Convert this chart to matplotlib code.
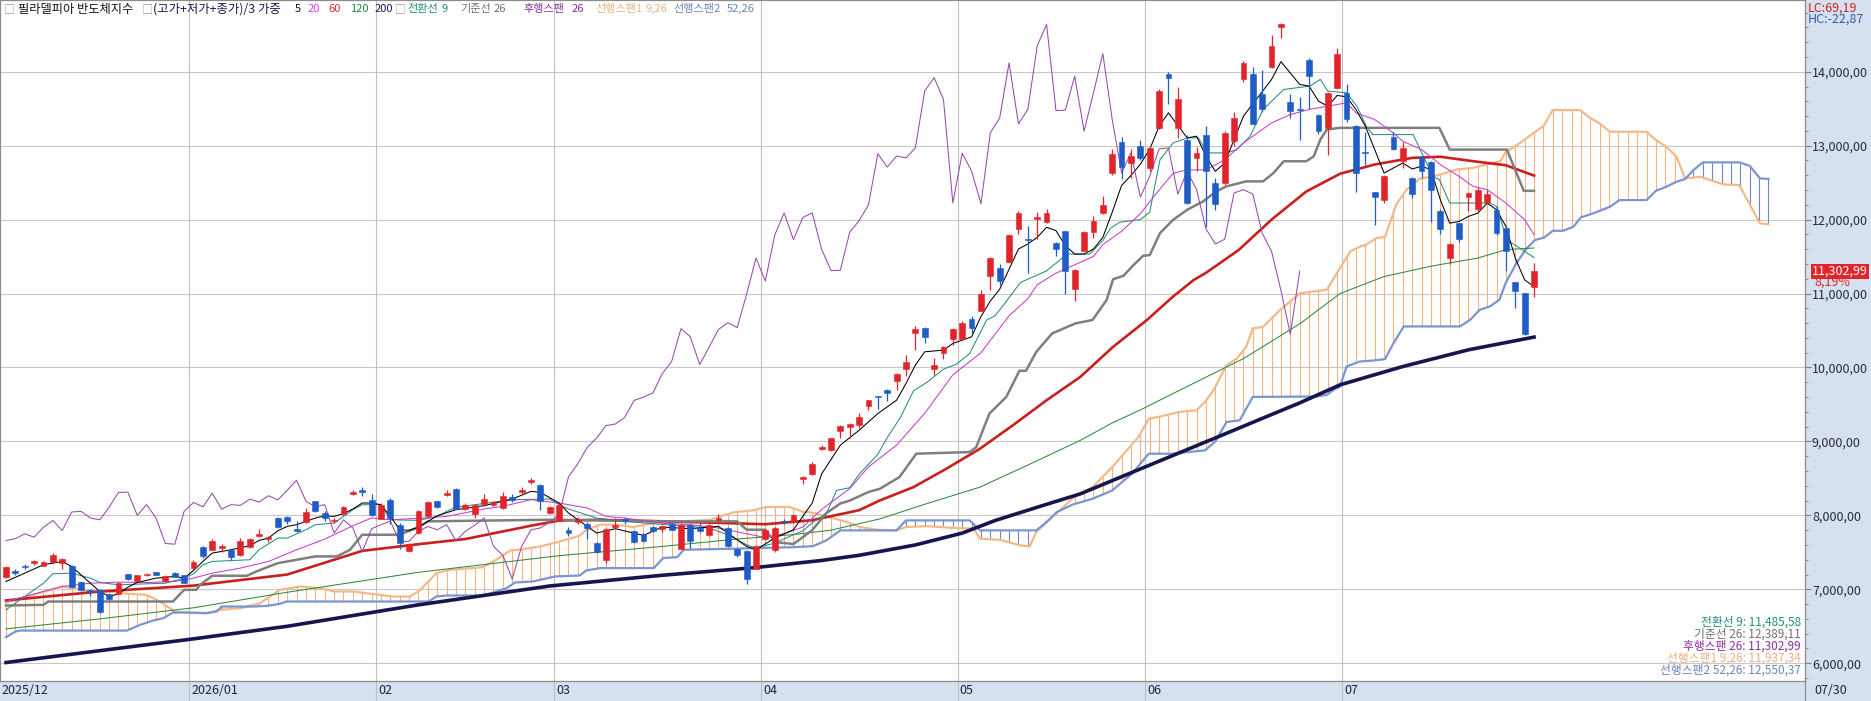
import numpy as np
import matplotlib
matplotlib.use('Agg')
import matplotlib.pyplot as plt
from matplotlib.transforms import blended_transform_factory
from matplotlib.ticker import FuncFormatter, MultipleLocator
from matplotlib.patches import Rectangle

plt.rcParams['font.family'] = ['Noto Sans CJK KR', 'DejaVu Sans']

# daily candles (index 0 = first bar of 2025/12, last = 07/30)
opens = [7160, 7250, 7310, 7355, 7320, 7370, 7355, 7310, 7100, 6990, 6990, 6935, 6940, 7205, 7115, 7190, 7230, 7110, 7215, 7190,
         7285, 7570, 7535, 7560, 7535, 7470, 7570, 7715, 7685, 7965, 7975, 7820, 7905, 8190, 8030, 7920, 8020, 8290, 8340, 8210,
         7955, 8210, 7875, 7520, 7760, 7985, 8190, 8280, 8355, 8085, 8020, 8155, 8145, 8100, 8250, 8315, 8450, 8415, 8030, 7930,
         7805, 7910, 7890, 7625, 7390, 7840, 7950, 7785, 7745, 7840, 7820, 7890, 7545, 7875, 7830, 7730, 7940, 7830, 7550, 7520,
         7280, 7680, 7535, 7930, 7905, 8495, 8565, 8900, 8885, 9135, 9200, 9225, 9475, 9610, 9690, 9815, 9975, 10470, 10540, 9980,
         10200, 10390, 10380, 10660, 10765, 11240, 11340, 11420, 11875, 11740, 12010, 11965, 11680, 11840, 11060, 11580, 11835, 12085, 12630, 13050,
         12770, 12990, 12700, 13240, 13975, 13240, 13070, 12835, 13140, 12495, 12495, 13060, 13895, 13975, 13700, 14070, 14610, 13595, 13490, 14165,
         13420, 13240, 13785, 13715, 13270, 12915, 12370, 12270, 13120, 12790, 12560, 12840, 12780, 12110, 11480, 11950, 12305, 12140, 12235, 12130,
         11885, 11150, 11005, 11085]
highs = [7310, 7280, 7340, 7400, 7380, 7490, 7420, 7330, 7110, 7010, 7000, 6940, 7100, 7210, 7200, 7215, 7240, 7190, 7230, 7195,
         7400, 7580, 7680, 7610, 7545, 7690, 7700, 7810, 7720, 7980, 7990, 7920, 8100, 8200, 8060, 7960, 8130, 8340, 8380, 8290,
         8170, 8230, 7900, 7620, 8070, 8200, 8200, 8340, 8370, 8170, 8150, 8290, 8200, 8310, 8290, 8390, 8510, 8420, 8130, 8150,
         7840, 7980, 7910, 7640, 7830, 7960, 7980, 7790, 7760, 7850, 7860, 7900, 7890, 7880, 7900, 7880, 8020, 7840, 7560, 7530,
         7590, 7810, 7840, 7950, 8020, 8530, 8720, 8950, 9050, 9220, 9250, 9380, 9560, 9610, 9715, 9920, 10170, 10560, 10545, 10125,
         10290, 10540, 10630, 10700, 11050, 11490, 11400, 11800, 12115, 11910, 12100, 12150, 11700, 11850, 11330, 11850, 12050, 12320, 12950, 13120,
         12960, 13080, 12990, 13760, 14000, 13790, 13140, 12980, 13270, 12560, 13200, 13450, 14140, 14060, 14020, 14490, 14660, 13700, 13655, 14190,
         13430, 13730, 14320, 13840, 13280, 13180, 12380, 12600, 13180, 13050, 12580, 12860, 12790, 12150, 11690, 11960, 12360, 12445, 12395, 12180,
         11900, 11160, 11010, 11410]
lows = [7150, 7190, 7280, 7330, 7310, 7360, 7270, 7020, 6980, 6910, 6680, 6860, 6930, 7130, 7110, 7180, 7195, 7100, 7160, 7080,
        7280, 7430, 7525, 7500, 7400, 7450, 7560, 7710, 7640, 7830, 7890, 7780, 7900, 8050, 7920, 7900, 8010, 8270, 8260, 7990,
        7950, 7880, 7540, 7500, 7750, 7980, 8100, 8260, 8080, 8070, 7970, 8140, 8130, 8090, 8180, 8290, 8420, 8070, 8020, 7920,
        7720, 7880, 7680, 7490, 7360, 7820, 7880, 7630, 7640, 7775, 7780, 7800, 7540, 7560, 7775, 7720, 7900, 7570, 7440, 7070,
        7270, 7670, 7510, 7880, 7900, 8420, 8550, 8880, 8870, 9050, 9050, 9180, 9430, 9440, 9545, 9690, 9890, 10235, 10330, 9900,
        10115, 10300, 10370, 10450, 10760, 11050, 11110, 11410, 11805, 11275, 11740, 11960, 11510, 11000, 10900, 11570, 11750, 12080, 12600, 12550,
        12560, 12800, 12660, 13225, 13560, 13100, 12210, 12655, 11900, 12135, 12470, 12990, 13860, 13290, 13460, 14050, 14450, 13375, 13080, 13490,
        13160, 12875, 13760, 13320, 12370, 12745, 11930, 12230, 12940, 12700, 12290, 12560, 11965, 11810, 11400, 11700, 12120, 12120, 12210, 11790,
        11310, 10810, 10440, 10960]
closes = [7296, 7220, 7300, 7385, 7370, 7460, 7415, 7030, 6995, 6960, 6690, 6870, 7085, 7140, 7190, 7205, 7200, 7180, 7165, 7085,
          7370, 7445, 7660, 7580, 7435, 7660, 7685, 7750, 7705, 7840, 7930, 7795, 8045, 8055, 7965, 7940, 8110, 8310, 8315, 8000,
          8145, 7965, 7620, 7610, 8055, 8175, 8115, 8300, 8085, 8145, 8135, 8220, 8180, 8265, 8210, 8340, 8475, 8190, 8115, 8145,
          7760, 7940, 7830, 7510, 7820, 7875, 7920, 7640, 7650, 7785, 7850, 7805, 7875, 7655, 7785, 7865, 7965, 7580, 7460, 7140,
          7580, 7805, 7830, 7910, 8010, 8520, 8700, 8920, 9045, 9215, 9235, 9325, 9555, 9600, 9655, 9915, 10080, 10525, 10415, 10040,
          10275, 10515, 10605, 10540, 10990, 11480, 11170, 11790, 12090, 11730, 12030, 12090, 11600, 11310, 11315, 11830, 11985, 12200, 12890, 12710,
          12860, 12835, 12970, 13740, 13920, 13625, 12225, 12900, 12655, 12215, 13175, 13375, 14120, 13295, 13490, 14350, 14640, 13475, 13480, 13940,
          13195, 13715, 14245, 13355, 12630, 12905, 12305, 12585, 12955, 12970, 12345, 12655, 12405, 11875, 11670, 11735, 12360, 12405, 12345, 11815,
          11570, 11040, 10450, 11303]

# moving averages (weighted, typical price)
ma5_x = [0, 2, 4, 6, 7, 8, 9, 10, 11, 12, 13, 14, 16, 18, 19, 20, 21, 22, 24, 26, 27, 28, 29, 30, 31, 32, 33, 34, 35, 36,
         37, 38, 39, 40, 41, 42, 43, 44, 46, 48, 51, 54, 56, 57, 59, 60, 63, 65, 68, 70, 73, 76, 78, 79, 80, 82, 84, 86, 87, 89,
         91, 93, 95, 96, 97, 98, 100, 101, 103, 104, 105, 106, 107, 108, 109, 110, 111, 112, 113, 114, 115, 116, 117, 118, 119, 120, 121, 122, 123, 124,
         126, 127, 128, 129, 130, 132, 135, 136, 138, 139, 140, 141, 142, 143, 144, 145, 146, 147, 149, 150, 151, 152, 153, 154, 155, 156, 157, 158, 159, 160,
         161, 162, 163]
ma5_y = [7106, 7219, 7332, 7377, 7309, 7196, 7083, 6971, 6903, 6939, 7029, 7092, 7151, 7174, 7151, 7255, 7377, 7490, 7535, 7589,
         7661, 7693, 7792, 7851, 7874, 7919, 7964, 7995, 7986, 8023, 8086, 8167, 8167, 8144, 7986, 7806, 7797, 7840, 7995, 8077,
         8131, 8221, 8325, 8311, 8167, 8032, 7761, 7820, 7729, 7842, 7820, 7851, 7670, 7580, 7535, 7693, 7806, 8167, 8560, 8950,
         9151, 9377, 9558, 9783, 10032, 10212, 10235, 10325, 10415, 10690, 10900, 11059, 11330, 11602, 11670, 11760, 11896, 11851, 11647, 11534,
         11534, 11602, 11760, 12100, 12462, 12597, 12750, 12950, 13263, 13444, 13105, 13128, 12856, 12653, 12766, 13399, 13896, 14136, 13828, 13806,
         13602, 13534, 13679, 13661, 13489, 13263, 12947, 12630, 12766, 12685, 12721, 12676, 12269, 11952, 11975, 12043, 12088, 12224, 12133, 11907,
         11478, 11184, 11094]
ma20_x = [0, 4, 6, 9, 12, 15, 18, 20, 22, 25, 28, 31, 34, 37, 39, 41, 44, 47, 51, 53, 56, 59, 62, 64, 66, 70, 73, 76, 79, 81,
          83, 85, 87, 90, 92, 95, 98, 101, 104, 107, 109, 110, 112, 114, 116, 117, 119, 121, 123, 124.5, 126, 128, 130, 132, 135, 137, 139, 141, 143, 144,
          146, 148, 149, 151, 153, 155, 156.5, 158, 160, 162, 163]
ma20_y = [6835, 6971, 7038, 7083, 7097, 7092, 7106, 7151, 7219, 7287, 7377, 7535, 7679, 7860, 7964, 7941, 7960, 7986, 8086, 8122,
          8212, 8167, 8100, 7986, 7964, 7896, 7874, 7829, 7752, 7700, 7752, 7842, 8080, 8361, 8655, 8950, 9380, 9900, 10200, 10700,
          10930, 11118, 11276, 11389, 11502, 11661, 11842, 12080, 12400, 12627, 12672, 12672, 12808, 13037, 13308, 13421, 13489, 13534, 13580, 13444,
          13353, 13172, 13059, 12947, 12744, 12585, 12450, 12405, 12224, 11998, 11795]
ma60_x = [0, 10, 20, 30, 38, 44, 49, 56, 59, 63, 70, 77, 81, 86, 91, 93.2, 96.8, 100.3, 103.9, 107.4, 111, 114.6, 118.1, 121.7, 124.5, 126.7,
          128, 131.5, 135, 138.7, 142.3, 146, 150, 153, 156.5, 160, 163]
ma60_y = [6850, 6970, 7050, 7200, 7520, 7610, 7680, 7860, 7930, 7940, 7920, 7895, 7880, 7935, 8070, 8201, 8382, 8630, 8902, 9218,
          9557, 9873, 10280, 10642, 10960, 11184, 11280, 11590, 12000, 12380, 12620, 12745, 12835, 12850, 12790, 12735, 12595]
ma120_x = [0, 10, 20, 30, 44, 59, 70, 78, 84, 88, 93.2, 98, 103.9, 109, 114.6, 118, 121, 125.2, 132, 138, 142.3, 147, 152, 157, 160, 163]
ma120_y = [6465, 6600, 6750, 6960, 7230, 7455, 7580, 7680, 7740, 7800, 7952, 8150, 8382, 8680, 9015, 9250, 9426, 9693, 10120, 10590,
           11000, 11230, 11370, 11480, 11594, 11616]
ma200_x = [0, 10, 20, 30, 44, 58, 70, 80, 87, 91, 97, 102, 105.5, 110, 114.6, 118, 123, 126, 130, 135, 138, 142.3, 149, 156, 163]
ma200_y = [6010, 6170, 6330, 6500, 6790, 7045, 7190, 7295, 7390, 7460, 7600, 7760, 7930, 8110, 8291, 8470, 8733, 8890, 9100, 9364,
           9521, 9765, 10013, 10239, 10411]

# ichimoku lines
tenkan_x = [0, 2, 4, 5, 7, 9, 10, 12, 17, 19, 20, 21, 22, 26, 27, 29, 30, 32, 33, 35, 36, 37, 38, 40, 41, 44, 46, 47, 48, 50,
            54, 58, 59, 60, 63, 66, 69, 72, 75, 77, 79, 80, 82, 84, 85, 86, 87.5, 88.6, 90, 91, 93, 94, 95.4, 96.8, 98.2, 100, 101.4, 102.8, 104.6, 105.5,
            106.5, 108.2, 111, 112.1, 113.2, 115.6, 117, 117.8, 118.8, 121, 122, 123.1, 124.5, 126, 127.2, 128.1, 130.2, 131.3, 132.7, 134.1, 136.3, 139.1, 140.2, 141, 143,
            144.1, 145.1, 145.8, 150.1, 151.2, 152.2, 152.9, 154, 158.3, 159, 160.1, 161.5, 163]
tenkan_y = [6722, 6903, 7083, 7210, 7219, 7151, 7092, 7061, 7083, 7151, 7210, 7332, 7377, 7400, 7535, 7693, 7693, 7806, 7874, 7896,
            7986, 8077, 8144, 8144, 7941, 7932, 7986, 8054, 8113, 8144, 8212, 8221, 8144, 8086, 7964, 7919, 7887, 7860, 7828, 7738,
            7603, 7558, 7625, 7738, 7790, 7900, 8023, 8338, 8374, 8555, 8826, 9052, 9322, 9684, 9796, 9977, 10045, 10190, 10641, 10700,
            10860, 11149, 11307, 11421, 11534, 11534, 11715, 11882, 11964, 12000, 12100, 12811, 13037, 13105, 13105, 12902, 12902, 12947, 13128, 13489,
            13760, 13806, 13896, 13738, 13715, 13534, 13263, 13150, 13150, 12856, 12585, 12540, 12224, 12224, 12178, 11726, 11613, 11486]
kijun_x = [0, 4, 4.5, 17.8, 19, 20.3, 20.7, 22, 25.7, 26.7, 29, 33, 35.3, 36.7, 38, 42, 44, 45, 58, 70, 78, 79, 81, 82, 84, 86,
           87.5, 89, 90, 92, 93.2, 95.3, 97.1, 102.8, 103.5, 104.9, 106.7, 108.1, 108.8, 109.9, 111.6, 114.1, 115.9, 117.4, 118.1, 119.2, 120.2,
           121.3, 122, 123.1, 124.5, 126, 127.7, 129.1, 130.2, 132.3, 134.1, 135.2, 136.3, 138.7, 139.5, 140.2, 140.9, 142.3, 152.9, 154, 160.1,
           161.9, 163]
kijun_y = [6781, 6790, 6835, 6835, 6993, 6993, 7061, 7183, 7183, 7241, 7354, 7445, 7445, 7535, 7738, 7738, 7842, 7919, 7941, 7919,
           7919, 7806, 7806, 7640, 7612, 7800, 8030, 8160, 8200, 8316, 8359, 8517, 8834, 8856, 8924, 9376, 9602, 9955, 9955, 10212,
           10461, 10597, 10642, 10912, 11194, 11240, 11376, 11511, 11520, 11817, 11998, 12133, 12246, 12382, 12450, 12517, 12517,
           12630, 12789, 12789, 12856, 13082, 13218, 13241, 13241, 12947, 12947, 12389, 12389]
span1_x = [0, 6, 7, 9, 11, 13, 15, 16.4, 18, 19.3, 21.4, 22.8, 25, 27.1, 29.2, 31.4, 33.5, 35, 37, 39.2, 41.3, 43.1, 44.2, 45.9,
           47.4, 50.9, 52.3, 53.8, 55.2, 57, 58.7, 61.2, 61.9, 63.4, 65.1, 66.9, 69.1, 72.3, 75.1, 76.2, 77.6, 79.7, 81.1, 83.6, 85, 86.1,
           87.5, 89.7, 91.1, 92.9, 95, 96, 98.2, 101.8, 103.2, 103.9, 106, 108.2, 109.2, 109.9, 111, 112.4, 113.9, 115.9, 118, 120.8,
           121.9, 122.9, 125.2, 127, 127.9, 128.8, 130.2, 131.3, 132.3, 133, 134.1, 135.9, 138, 140.9, 142.3, 143.4, 144.5,
           145.1, 146.2, 147.1, 148.3, 149.4, 150.8, 153, 154.7, 156.5, 158.3, 159.4, 160, 161.1, 162.9, 164, 165, 167.9, 168.9, 170, 171.1,
           175, 176, 177.1, 178.2, 179.1, 180.7, 183.2, 184.9, 187.1, 188]
span1_y = [6821, 7038, 7016, 6971, 6971, 6939, 6925, 6835, 6700, 6686, 6677, 6722, 6744, 6812, 6993, 7038, 7016, 6971, 6971, 6935,
           6903, 6903, 6993, 7219, 7264, 7300, 7400, 7526, 7544, 7580, 7634, 7725, 7806, 7874, 7874, 7842, 7896, 7919, 7941, 7986,
           8041, 8068, 8113, 8113, 8050, 8036, 7986, 7910, 7842, 7806, 7797, 7842, 7855, 7824, 7824, 7684, 7670, 7594, 7580, 7774,
           7910, 8068, 8246, 8382, 8653, 9060, 9308, 9331, 9399, 9421, 9534, 9693, 10032, 10122, 10280, 10529, 10551, 10777, 11003,
           11052, 11345, 11571, 11639, 11661, 11752, 11765, 12203, 12406, 12551, 12609, 12677, 12700, 12758, 12790, 12918, 13000, 13167,
           13265, 13482, 13482, 13383, 13300, 13188, 13188, 13076, 12985, 12850, 12557, 12579, 12476, 12467, 11949, 11937]
span2_x = [0, 1, 1.5, 12.9, 14.3, 15.7, 16.8, 17.8, 19.3, 21.4, 22.5, 23, 26.4, 27.8, 29.2, 29.9, 45.1, 45.9, 47, 50.9,
           53.4, 54.3, 56.2, 58.6, 61.2, 61.9, 63.4, 69.1, 70.1, 71.6, 72.3, 77.6, 84, 86.1, 87.5, 89, 95, 96, 102.8, 103.9,
           109.9, 111, 112.1, 113.8, 115.9, 118, 120.1, 121.9, 124.3, 127.9, 129, 130.2, 131.6, 133, 139.8,
           140.9, 141.6, 142.3, 143, 144.4, 145.9, 147.1, 148, 149.1, 155.1, 156.2, 157.2, 158.3, 159.3, 160, 161.1, 162.2, 163.1, 164.1, 165,
           166.1, 167.2, 168, 169.3, 171.1, 172.1, 175, 176, 177.1, 178.2, 179.1, 180, 181, 184.9, 186, 187.1, 188]
span2_y = [6352, 6429, 6442, 6442, 6519, 6578, 6610, 6686, 6686, 6677, 6700, 6767, 6767, 6776, 6803, 6835, 6835, 6903, 6916, 6916,
           7016, 7092, 7106, 7174, 7187, 7255, 7287, 7287, 7422, 7436, 7535, 7549, 7570, 7584, 7661, 7797, 7797, 7932, 7932, 7797,
           7797, 7910, 8045, 8147, 8224, 8337, 8563, 8834, 8834, 8879, 9000, 9263, 9286, 9602, 9607,
           9630, 9697, 9742, 10013, 10081, 10095, 10113, 10329, 10555, 10555, 10646, 10781, 10826, 10916, 11150, 11407, 11610, 11723, 11759, 11849,
           11849, 11903, 12030, 12084, 12174, 12264, 12264, 12390, 12444, 12512, 12548, 12670, 12774, 12774, 12728, 12557, 12550]

month_pos = [19.5, 39.5, 58.5, 80.5, 101.5, 121.5, 142.5]
month_labels = ['2026/01', '02', '03', '04', '05', '06', '07']

W, H = 1871, 701
fig = plt.figure(figsize=(W / 100, H / 100), dpi=100)
fig.patch.set_facecolor('white')
panel = '#d6e1ef'
fig.patches.append(Rectangle((1805 / W, 0), 66 / W, 1, transform=fig.transFigure, facecolor=panel, edgecolor='none', zorder=-5))
fig.patches.append(Rectangle((0, 0), 1, 20 / H, transform=fig.transFigure, facecolor=panel, edgecolor='none', zorder=-5))

ax = fig.add_axes([0, 20 / H, 1805 / W, 681 / H])
ax.set_xlim(-0.64, 191.9)
ax.set_ylim(5760, 14970)
ax.set_facecolor('white')

# grid
for v in range(6000, 15000, 1000):
    ax.axhline(v, color='#c8c8c8', lw=0.8, zorder=0)
bt = blended_transform_factory(ax.transData, ax.transAxes)
ax.vlines(month_pos, -20 / 681, 1, transform=bt, color='#c0c0c0', lw=0.8, zorder=0, clip_on=False)

# cloud hatch
k = np.arange(0, 189)
s1 = np.interp(k, span1_x, span1_y)
s2 = np.interp(k, span2_x, span2_y)
up = s1 >= s2
ax.vlines(k[up], s2[up], s1[up], color='#f2b27a', lw=0.8, zorder=1)
ax.vlines(k[~up], s1[~up], s2[~up], color='#6f86c4', lw=0.8, zorder=1)
ax.plot(span1_x, span1_y, color='#f3b98a', lw=1.6, zorder=2)
ax.plot(span2_x, span2_y, color='#7b94d2', lw=1.6, zorder=2)

# lines
ax.plot(ma200_x, ma200_y, color='#16164e', lw=2.6, zorder=3)
ax.plot(ma120_x, ma120_y, color='#2e8b3a', lw=0.75, zorder=3)
ax.plot(ma60_x, ma60_y, color='#c8201e', lw=1.9, zorder=3)
ax.plot(kijun_x, kijun_y, color='#7f7f7f', lw=1.8, zorder=3)
ax.plot(tenkan_x, tenkan_y, color='#2a8c7c', lw=0.75, zorder=3)
ax.plot(ma20_x, ma20_y, color='#c83ccc', lw=0.75, zorder=3)
ax.plot(ma5_x, ma5_y, color='#000000', lw=0.75, zorder=3)
closes_arr = np.array(closes)
ax.plot(np.arange(len(closes) - 25), closes_arr[25:], color='#9a48b0', lw=0.75, zorder=3)

# candles
o = np.array(opens)
c = closes_arr
hi = np.array(highs)
lo = np.array(lows)
idx = np.arange(len(c))
col = np.where(c >= o, '#e0242a', '#1f5cc6')
ax.vlines(idx, lo, hi, colors=col, lw=0.9, zorder=4)
body = np.maximum(np.abs(c - o), 14)
ax.bar(idx, body, bottom=np.minimum(o, c), width=0.62, color=col, edgecolor=col, lw=0.4, zorder=5)

# axes styling
for s in ax.spines.values():
    s.set_color('#8c8c8c')
    s.set_linewidth(0.9)
ax.set_xticks([])
ax.yaxis.tick_right()
ax.set_yticks(range(6000, 15000, 1000))
ax.yaxis.set_minor_locator(MultipleLocator(200))
ax.yaxis.set_major_formatter(FuncFormatter(lambda v, p: f'{v:,.2f}'.replace('.', ',')))
ax.tick_params(axis='y', which='major', length=4, width=0.8, color='#808080', labelsize=9,
               labelcolor='#2a2a3a', pad=1)
ax.tick_params(axis='y', which='minor', length=2.5, width=0.8, color='#909090')

# month labels
ax.text(-0.45, -10 / 681, '2025/12', transform=bt, ha='left', va='center', fontsize=9, color='#202040')
for p, lab in zip(month_pos, month_labels):
    ax.text(p + 0.25, -10 / 681, lab, transform=bt, ha='left', va='center', fontsize=9, color='#202040')
fig.text(1814 / W, 10 / H, '07/30', ha='left', va='center', fontsize=9, color='#202040')
fig.add_artist(plt.Line2D([1805 / W, 1805 / W], [0, 20 / H], color='#8c8c8c', lw=0.9))

# last price tag
tb = blended_transform_factory(ax.transAxes, ax.transData)
ax.text(1.004, closes[-1], '11,302,99', transform=tb, ha='left', va='center', fontsize=9, color='white',
        bbox=dict(facecolor='#e0242a', edgecolor='none', pad=0.8))
ax.text(1.005, closes[-1] - 150, '8,19%', transform=tb, ha='left', va='center', fontsize=9, color='#e0242a')
fig.text(1808 / W, 1 - 8 / H, 'LC:69,19', ha='left', va='center', fontsize=9, color='#d02020')
fig.text(1808 / W, 1 - 19 / H, 'HC:-22,87', ha='left', va='center', fontsize=9, color='#2f5fb0')

# top legend (each token placed where it sits in the original header)
legend_items = [
    (4, '□', '#9a9a9a', 8.0), (18, '필라델피아 반도체지수', '#111111', 8.8), (142, '□', '#9a9a9a', 8.0),
    (153, '(고가+저가+종가)/3 가중', '#1a1a50', 8.9), (295, '5', '#111111', 8.0), (308, '20', '#e040e0', 8.0),
    (328, '60', '#e02828', 8.0), (350, '120', '#1e8a3c', 8.0), (375, '200', '#1a1a50', 8.0), (395, '□', '#9a9a9a', 8.0),
    (407, '전환선', '#1f8f7a', 8.0), (441, '9', '#1f8f7a', 8.0), (460, '기준선', '#707070', 8.0), (494, '26', '#707070', 8.0),
    (523, '후행스팬', '#8a2fa0', 8.0), (572, '26', '#8a2fa0', 8.0), (595, '선행스팬1', '#eab083', 8.0), (646, '9,26', '#eab083', 8.0),
    (673, '선행스팬2', '#6a86b8', 8.0), (727, '52,26', '#6a86b8', 8.0),
]
for px, txt, cl, fs in legend_items:
    fig.text(px / W, 1 - 9 / H, txt, ha='left', va='center', fontsize=fs, color=cl)

# bottom-right value legend
value_items = [
    ('전환선 9: 11,485,58', '#1f8f7a'), ('기준선 26: 12,389,11', '#707070'),
    ('후행스팬 26: 11,302,99', '#8a2fa0'), ('선행스팬1 9,26: 11,937,34', '#eab083'),
    ('선행스팬2 52,26: 12,550,37', '#6a86b8'),
]
for n, (txt, cl) in enumerate(value_items):
    fig.text(1801 / W, 1 - (622 + 12 * n) / H, txt, ha='right', va='center', fontsize=8.5, color=cl)

fig.savefig('out.png', dpi=100, facecolor='white')
